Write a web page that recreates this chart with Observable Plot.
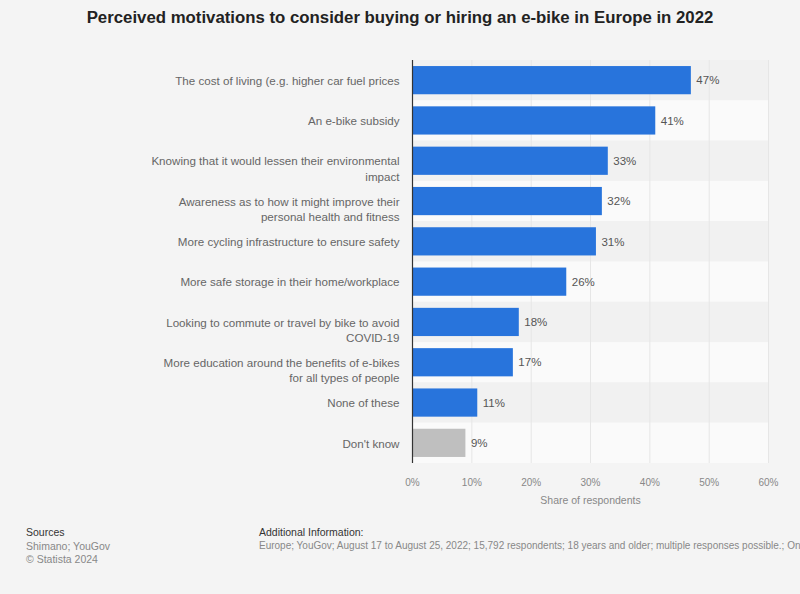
<!DOCTYPE html>
<html>
<head>
<meta charset="utf-8">
<script src="https://cdn.jsdelivr.net/npm/d3@7"></script>
<script src="https://cdn.jsdelivr.net/npm/@observablehq/plot@0.6"></script>
<style>
  html, body { margin: 0; padding: 0; background: #f4f4f4; }
  #page { position: relative; width: 800px; height: 594px; overflow: hidden; background: #f4f4f4; font-family: "Liberation Sans", Arial, sans-serif; }
  #title { position: absolute; left: 0; top: 8px; width: 800px; text-align: center; font-weight: bold; font-size: 16.8px; color: #222; }
  #chart { position: absolute; left: 0; top: 40px; line-height: 0; }
  .foot { position: absolute; white-space: nowrap; font-size: 10.5px; }
</style>
</head>
<body>
<div id="page">
  <div id="title">Perceived motivations to consider buying or hiring an e-bike in Europe in 2022</div>
  <div id="chart"></div>
  <div class="foot" style="left:26px; top:526px; color:#333;">Sources</div>
  <div class="foot" style="left:26px; top:540px; color:#888;">Shimano; YouGov</div>
  <div class="foot" style="left:26px; top:553px; color:#888;">© Statista 2024</div>
  <div class="foot" style="left:259px; top:526px; color:#333;">Additional Information:</div>
  <div class="foot" style="left:259px; top:540px; color:#888; font-size:10px;">Europe; YouGov; August 17 to August 25, 2022; 15,792 respondents; 18 years and older; multiple responses possible.; Online survey</div>
</div>
<script>
const categories = [
  "The cost of living (e.g. higher car fuel prices",
  "An e-bike subsidy",
  "Knowing that it would lessen their environmental\nimpact",
  "Awareness as to how it might improve their\npersonal health and fitness",
  "More cycling infrastructure to ensure safety",
  "More safe storage in their home/workplace",
  "Looking to commute or travel by bike to avoid\nCOVID-19",
  "More education around the benefits of e-bikes\nfor all types of people",
  "None of these",
  "Don't know"
];
const values = [47, 41, 33, 32, 31, 26, 18, 17, 11, 9];
const xTicks = [0, 10, 20, 30, 40, 50, 60];
const xLabel = "Share of respondents";

const data = categories.map((c, i) => ({category: c, value: values[i], index: i}));

const chart = Plot.plot({
  width: 800,
  height: 473,
  marginLeft: 412,
  marginRight: 32,
  marginTop: 20,
  marginBottom: 50,
  style: {background: "transparent", fontFamily: "Liberation Sans, Arial, sans-serif"},
  x: {domain: [0, 60], axis: null},
  y: {domain: categories, paddingInner: 0.3, paddingOuter: 0.15, round: false, axis: null},
  marks: [
    Plot.barX(data, {y: "category", x1: 0, x2: 60, insetTop: -6.05, insetBottom: -6.05,
      fill: d => d.index % 2 === 0 ? "#f1f1f1" : "#fafafa"}),
    Plot.ruleX(xTicks.filter(t => t > 0), {stroke: "#e6e6e6", strokeWidth: 1}),
    Plot.barX(data, {y: "category", x: "value",
      fill: d => d.category === "Don't know" ? "#bfbfbf" : "#2874dc"}),
    Plot.ruleX([0], {stroke: "#333", strokeWidth: 1.2}),
    Plot.text(data, {y: "category", x: "value", text: d => d.value + "%", dx: 5, textAnchor: "start",
      fill: "#555", fontSize: 11.5}),
    Plot.text(data, {y: "category", text: "category", frameAnchor: "left", dx: -13, textAnchor: "end",
      lineAnchor: "top", dy: -6.5, lineHeight: 1.3, fill: "#666", fontSize: 11.6}),
    Plot.axisX(xTicks, {tickSize: 0, tickPadding: 15, tickFormat: d => d + "%", fontSize: 10, fill: "#888", label: null}),
    Plot.text([xLabel], {frameAnchor: "bottom", dy: 40, fill: "#888", fontSize: 10.5})
  ]
});
document.getElementById("chart").appendChild(chart);
</script>
</body>
</html>
